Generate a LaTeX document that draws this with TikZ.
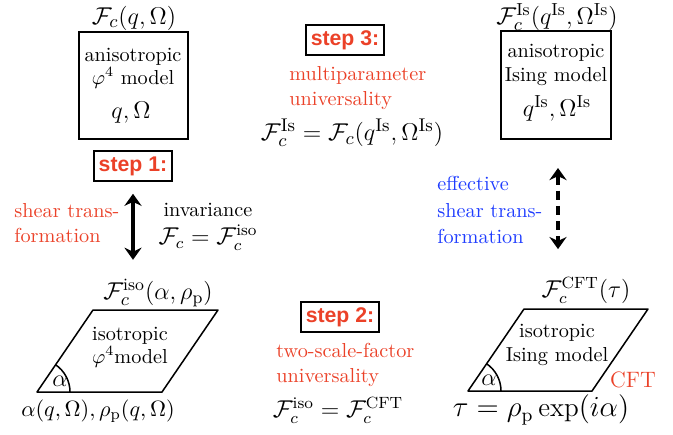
\documentclass[tikz,border=0pt]{standalone}
\usepackage{amsmath,amssymb}
\usepackage{fontspec}
\newfontfamily\stepfont{Liberation Sans}
\usetikzlibrary{positioning, calc, arrows.meta}
\definecolor{stepred}{RGB}{235,65,40}
\definecolor{effblue}{RGB}{30,60,255}

\begin{document}
\begin{tikzpicture}[x=0.494pt, y=-0.494pt, >={Stealth[length=6pt, width=8.5pt, inset=2pt]},
    every node/.style={inner sep=0.5pt},
    modelbox/.style={draw, line width=1pt, minimum width=54pt, minimum height=53pt},
    stepbox/.style={draw, line width=1pt, inner sep=2.5pt, text=stepred,
        font=\stepfont\bfseries\fontsize{10.5}{12}\selectfont},
    mathlabel/.style={font=\fontsize{#1}{13}\selectfont},
    mathlabel/.default=11.5,
    rednote/.style={align=left, anchor=west, text=stepred, font=\fontsize{10}{12.5}\selectfont},
    bluenote/.style={align=left, anchor=west, text=effblue, font=\fontsize{10}{13}\selectfont},
    inbox/.style={align=center, font=\fontsize{10}{11.5}\selectfont},
    slab/.style={line width=0.75pt, line join=round},
    bigarrow/.style={<->, line width=1.5pt}]
    \useasboundingbox (0,0) rectangle (673,434);

    % Coordinates of the two parallelograms
    \coordinate (L1) at (37,392);
    \coordinate (L2) at (162,392);
    \coordinate (L3) at (218,310);
    \coordinate (L4) at (93,310);
    \coordinate (R1) at (468,391);
    \coordinate (R2) at (592,391);
    \coordinate (R3) at (648,309);
    \coordinate (R4) at (524,309);

    % Anisotropic phi^4 model (top left)
    \node[mathlabel=12.8] (fcaniso) at (134,18) {$\mathcal{F}_c(q,\Omega)$};
    \node[modelbox] (phibox) at (133.5,85.5) {};
    \node[inbox] (phitext) at (133,68) {anisotropic\\$\varphi^4$ model};
    \node[mathlabel=12.5] (phipar) at (131,113) {$q,\Omega$};

    % Anisotropic Ising model (top right)
    \node[mathlabel=12.3] (fcising) at (557,17) {$\mathcal{F}_c^{\mathrm{Is}}(q^{\mathrm{Is}},\Omega^{\mathrm{Is}})$};
    \node[modelbox] (isingbox) at (556,85) {};
    \node[inbox] (isingtext) at (556,65) {anisotropic\\Ising model};
    \node[mathlabel=12.3] (isingpar) at (557,108) {$q^{\mathrm{Is}},\Omega^{\mathrm{Is}}$};

    % Step 3
    \node[stepbox] (step3) at (345,40) {step 3:};
    \node[rednote] (multi) at (288,88) {multiparameter\\universality};
    \node[mathlabel=13] (eqthree) at (352,133) {$\mathcal{F}_c^{\mathrm{Is}}=\mathcal{F}_c(q^{\mathrm{Is}},\Omega^{\mathrm{Is}})$};

    % Step 1
    \node[stepbox] (step1) at (133,166) {step 1:};
    \node[rednote] (shear) at (13,223) {shear trans-\\formation};
    \node[align=center, font=\fontsize{10}{13}\selectfont] (invar) at (208,210) {invariance};
    \node[mathlabel=12] (invareq) at (208,238) {$\mathcal{F}_c=\mathcal{F}_c^{\mathrm{iso}}$};

    % Isotropic phi^4 model (bottom left)
    \node[mathlabel=12.2] (fciso) at (158,293) {$\mathcal{F}_c^{\mathrm{iso}}(\alpha,\rho_{\mathrm{p}})$};
    \draw[slab] (L1) -- (L2) -- (L3) -- (L4) -- cycle;
    \draw[slab] ($(L1)+(33,0)$) arc[start angle=0, end angle=56, radius=16.3pt];
    \node[inbox] (isophi) at (130,347) {isotropic\\$\varphi^4$model};
    \node[mathlabel] (alphaL) at (60,381) {$\alpha$};
    \node[mathlabel=11] (isopar) at (98,411) {$\alpha(q,\Omega),\rho_{\mathrm{p}}(q,\Omega)$};

    % Step 2
    \node[stepbox] (step2) at (340,317) {step 2:};
    \node[rednote] (twoscale) at (275,365) {two-scale-factor\\universality};
    \node[mathlabel] (eqtwo) at (338,410) {$\mathcal{F}_c^{\mathrm{iso}}=\mathcal{F}_c^{\mathrm{CFT}}$};

    % Isotropic Ising model (bottom right)
    \node[mathlabel] (fccft) at (586,290) {$\mathcal{F}_c^{\mathrm{CFT}}(\tau)$};
    \draw[slab] (R1) -- (R2) -- (R3) -- (R4) -- cycle;
    \draw[slab] ($(R1)+(33,0)$) arc[start angle=0, end angle=56, radius=16.3pt];
    \node[inbox] (isoising) at (557,345) {isotropic\\Ising model};
    \node[mathlabel] (alphaR) at (489,380) {$\alpha$};
    \node[text=stepred, font=\fontsize{11}{13}\selectfont] (cft) at (633,380) {CFT};
    \node[mathlabel=13.4] (taudef) at (541,410) {$\tau=\rho_{\mathrm{p}}\exp(i\alpha)$};

    % Effective shear transformation
    \node[bluenote] (effshear) at (436,210) {effective\\shear trans-\\formation};

    % Arrows
    \draw[bigarrow, shorten <=6pt, shorten >=9pt] (step1.south) -- (step1.south |- fciso.north);
    \draw[bigarrow, dash pattern=on 4.5pt off 3pt, shorten <=14pt, shorten >=13pt]
        ($(isingbox.south)+(2,0)$) -- ($(isingbox.south |- fccft.north)+(2,0)$);
\end{tikzpicture}
\end{document}
